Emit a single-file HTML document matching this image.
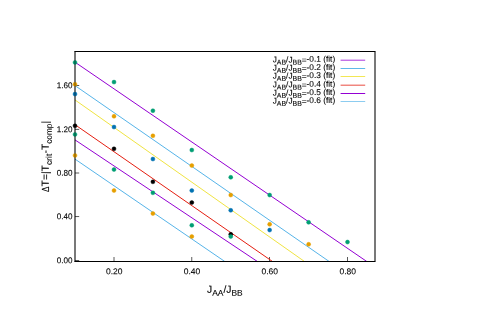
<!DOCTYPE html>
<html><head><meta charset="utf-8"><title>plot</title>
<style>
html,body{margin:0;padding:0;background:#fff;}
body{width:500px;height:314px;overflow:hidden;font-family:"Liberation Sans",sans-serif;}
svg{display:block;will-change:transform;}
text{font-family:"Liberation Sans",sans-serif;fill:#000;stroke:#000;stroke-width:0.1px;text-rendering:geometricPrecision;}
</style></head><body>
<svg width="500" height="314" viewBox="0 0 500 314">
<rect x="0" y="0" width="500" height="314" fill="#fff"/>

<g stroke="#000" stroke-width="0.65" fill="none">
<line x1="114.0" y1="261.5" x2="114.0" y2="257.0"/>
<line x1="191.75" y1="261.5" x2="191.75" y2="257.0"/>
<line x1="269.5" y1="261.5" x2="269.5" y2="257.0"/>
<line x1="347.5" y1="261.5" x2="347.5" y2="257.0"/>
<line x1="75.0" y1="260.5" x2="79.2" y2="260.5"/>
<line x1="75.0" y1="216.55" x2="79.2" y2="216.55"/>
<line x1="75.0" y1="173.0" x2="79.2" y2="173.0"/>
<line x1="75.0" y1="129.4" x2="79.2" y2="129.4"/>
<line x1="75.0" y1="85.5" x2="79.2" y2="85.5"/>
</g>
<g font-size="8.5">
<text transform="translate(114.3,274.35) rotate(0.03)" text-anchor="middle">0.20</text>
<text transform="translate(192.05,274.35) rotate(0.03)" text-anchor="middle">0.40</text>
<text transform="translate(269.8,274.35) rotate(0.03)" text-anchor="middle">0.60</text>
<text transform="translate(347.8,274.35) rotate(0.03)" text-anchor="middle">0.80</text>
</g>
<g font-size="8.5">
<text transform="translate(72.6,263.3) rotate(0.03) scale(0.955,1)" text-anchor="end">0.00</text>
<text transform="translate(72.6,219.35) rotate(0.03) scale(0.955,1)" text-anchor="end">0.40</text>
<text transform="translate(72.6,175.8) rotate(0.03) scale(0.955,1)" text-anchor="end">0.80</text>
<text transform="translate(72.6,132.2) rotate(0.03) scale(0.955,1)" text-anchor="end">1.20</text>
<text transform="translate(72.6,88.3) rotate(0.03) scale(0.955,1)" text-anchor="end">1.60</text>
</g>
<g stroke-width="1" fill="none">
<line x1="75" y1="62.2" x2="366.8" y2="261.5" stroke="#9400D3"/>
<line x1="75" y1="85.6" x2="329.2" y2="261.5" stroke="#56B4E9"/>
<line x1="75" y1="99.95" x2="304.5" y2="261.5" stroke="#F0E442"/>
<line x1="75" y1="124.7" x2="272.5" y2="261.5" stroke="#E51E10"/>
<line x1="75" y1="139.9" x2="257.4" y2="261.5" stroke="#9400D3"/>
<line x1="75" y1="159.1" x2="224.8" y2="261.5" stroke="#56B4E9"/>
</g>
<g font-size="8.3">
<text transform="translate(335.2,62.4) rotate(0.03)" text-anchor="end">J<tspan font-size="6.9" dy="2.2">AB</tspan><tspan dy="-2.2">/J</tspan><tspan font-size="6.9" dy="2.2">BB</tspan><tspan dy="-1.8">=</tspan><tspan dy="-1">-0.1 (fit)</tspan></text>
<line x1="340.6" y1="60.2" x2="365.2" y2="60.2" stroke="#9400D3" stroke-width="0.8"/>
<text transform="translate(335.2,70.6) rotate(0.03)" text-anchor="end">J<tspan font-size="6.9" dy="2.2">AB</tspan><tspan dy="-2.2">/J</tspan><tspan font-size="6.9" dy="2.2">BB</tspan><tspan dy="-1.8">=</tspan><tspan dy="-1">-0.2 (fit)</tspan></text>
<line x1="340.6" y1="68.5" x2="365.2" y2="68.5" stroke="#56B4E9" stroke-width="0.95"/>
<text transform="translate(335.2,78.6) rotate(0.03)" text-anchor="end">J<tspan font-size="6.9" dy="2.2">AB</tspan><tspan dy="-2.2">/J</tspan><tspan font-size="6.9" dy="2.2">BB</tspan><tspan dy="-1.8">=</tspan><tspan dy="-1">-0.3 (fit)</tspan></text>
<line x1="340.6" y1="76.5" x2="365.2" y2="76.5" stroke="#F0E442" stroke-width="0.9"/>
<text transform="translate(335.2,87.35) rotate(0.03)" text-anchor="end">J<tspan font-size="6.9" dy="2.2">AB</tspan><tspan dy="-2.2">/J</tspan><tspan font-size="6.9" dy="2.2">BB</tspan><tspan dy="-1.8">=</tspan><tspan dy="-1">-0.4 (fit)</tspan></text>
<line x1="340.6" y1="85.18" x2="365.2" y2="85.18" stroke="#E51E10" stroke-width="0.8"/>
<text transform="translate(335.2,95.6) rotate(0.03)" text-anchor="end">J<tspan font-size="6.9" dy="2.2">AB</tspan><tspan dy="-2.2">/J</tspan><tspan font-size="6.9" dy="2.2">BB</tspan><tspan dy="-1.8">=</tspan><tspan dy="-1">-0.5 (fit)</tspan></text>
<line x1="340.6" y1="93.5" x2="365.2" y2="93.5" stroke="#9400D3" stroke-width="1"/>
<text transform="translate(335.2,103.6) rotate(0.03)" text-anchor="end">J<tspan font-size="6.9" dy="2.2">AB</tspan><tspan dy="-2.2">/J</tspan><tspan font-size="6.9" dy="2.2">BB</tspan><tspan dy="-1.8">=</tspan><tspan dy="-1">-0.6 (fit)</tspan></text>
<line x1="340.6" y1="101.5" x2="365.2" y2="101.5" stroke="#56B4E9" stroke-width="0.68"/>
</g>
<path d="M75.0 52.0V261.0M375.0 52.0V261.0" fill="none" stroke="#000" stroke-opacity="0.373" stroke-width="2"/>
<g fill="#009E73" stroke="#009E73" stroke-opacity="0.5" stroke-width="0.9">
<circle cx="75" cy="62.4" r="2.0"/>
<circle cx="114" cy="82.1" r="2.0"/>
<circle cx="152.9" cy="110.7" r="2.0"/>
<circle cx="191.8" cy="150.05" r="2.0"/>
<circle cx="230.75" cy="177.3" r="2.0"/>
<circle cx="269.65" cy="195.05" r="2.0"/>
<circle cx="308.6" cy="222.3" r="2.0"/>
<circle cx="347.5" cy="242.05" r="2.0"/>
</g>
<g fill="#E69F00" stroke="#E69F00" stroke-opacity="0.5" stroke-width="0.9">
<circle cx="75" cy="84.3" r="2.0"/>
<circle cx="114" cy="116.3" r="2.0"/>
<circle cx="152.9" cy="135.8" r="2.0"/>
<circle cx="191.8" cy="165.55" r="2.0"/>
<circle cx="230.75" cy="195.05" r="2.0"/>
<circle cx="269.65" cy="224.3" r="2.0"/>
<circle cx="308.65" cy="244.3" r="2.0"/>
</g>
<g fill="#0072B2" stroke="#0072B2" stroke-opacity="0.5" stroke-width="0.9">
<circle cx="75" cy="94.1" r="2.0"/>
<circle cx="114" cy="127.05" r="2.0"/>
<circle cx="152.9" cy="159.05" r="2.0"/>
<circle cx="191.8" cy="190.55" r="2.0"/>
<circle cx="230.75" cy="210.3" r="2.0"/>
<circle cx="269.65" cy="230.05" r="2.0"/>
</g>
<g fill="#000000" stroke="#000000" stroke-opacity="0.5" stroke-width="0.9">
<circle cx="75" cy="125.8" r="2.0"/>
<circle cx="114" cy="148.8" r="2.0"/>
<circle cx="152.9" cy="181.8" r="2.0"/>
<circle cx="191.8" cy="202.55" r="2.0"/>
<circle cx="230.75" cy="234.3" r="2.0"/>
</g>
<g fill="#009E73" stroke="#009E73" stroke-opacity="0.5" stroke-width="0.9">
<circle cx="75" cy="134.4" r="2.0"/>
<circle cx="114" cy="169.55" r="2.0"/>
<circle cx="152.9" cy="192.8" r="2.0"/>
<circle cx="191.8" cy="225.3" r="2.0"/>
<circle cx="230.75" cy="236.55" r="2.0"/>
</g>
<g fill="#E69F00" stroke="#E69F00" stroke-opacity="0.5" stroke-width="0.9">
<circle cx="75" cy="155.45" r="2.0"/>
<circle cx="114" cy="190.55" r="2.0"/>
<circle cx="152.9" cy="213.55" r="2.0"/>
<circle cx="191.8" cy="236.55" r="2.0"/>
</g>
<path d="M75.0 52.0V261.0M375.0 52.0V261.0" fill="none" stroke="#000" stroke-opacity="0.25" stroke-width="2"/>
<path d="M74.3 51.5H375.6M74.3 261.5H375.6" fill="none" stroke="#000" stroke-width="1"/>
<text transform="translate(207,292.8) rotate(0.03)" font-size="10.3">J<tspan font-size="8.45" dy="2.85">AA</tspan><tspan dy="-2.85">/J</tspan><tspan font-size="8.45" dy="2.85">BB</tspan></text>
<text transform="translate(48.7,191.9) rotate(-89.97) scale(0.8,1)" font-size="10.3">Δ</text>
<text transform="translate(48.7,186.4) rotate(-89.97)" font-size="10.3">T=|T<tspan font-size="8.25" dy="3" letter-spacing="0.15">crit</tspan><tspan dy="-3">-T</tspan><tspan font-size="8.25" dy="3">comp</tspan><tspan dy="-3">|</tspan></text>
</svg></body></html>
